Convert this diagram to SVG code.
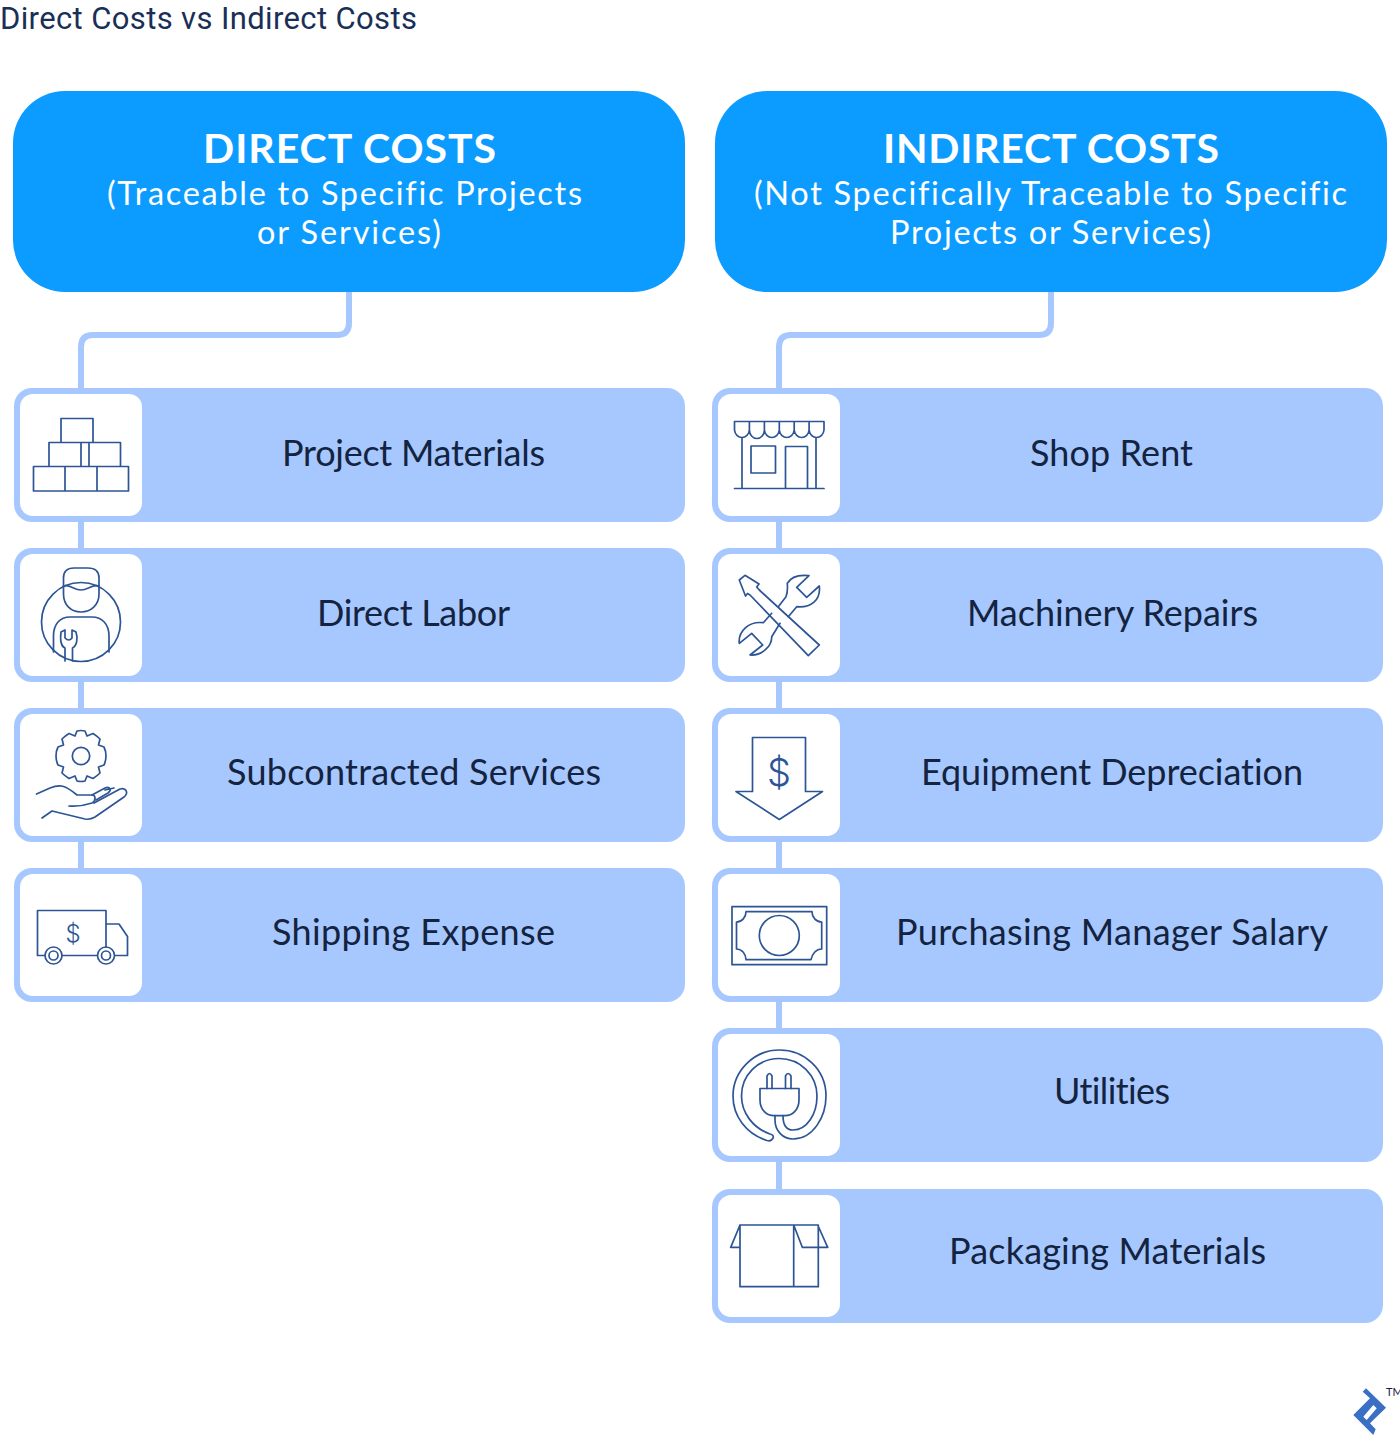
<svg xmlns="http://www.w3.org/2000/svg" width="1400" height="1436" viewBox="0 0 1400 1436">
<style>
text{font-family:"Lato","Liberation Sans",sans-serif;font-variant-ligatures:none}
.t{font-size:31px;fill:#1a2f57;font-family:"Roboto","Liberation Sans",sans-serif}
.h{font-size:41px;font-weight:700;fill:#fff}
.s{font-size:32.500px;fill:#fff}
.l{font-size:36px;fill:#14233f}
.head{fill:#0c9bff}
.card{fill:#a6c8fe}
.win{fill:#fff}
.i{fill:none;stroke:#2d5596;stroke-width:1.700;stroke-linejoin:round;stroke-linecap:round}
.d{fill:#2d5596;font-weight:300;font-family:"Inter","Lato",sans-serif}
.c{fill:none;stroke:#a6c8fe;stroke-width:6}
</style>
<text class="t" x="0" y="29" textLength="417">Direct Costs vs Indirect Costs</text>
<g id="connectors">
<path class="c" d="M349 290V323Q349 335 337 335H93Q81 335 81 347V960"/>
<path class="c" d="M1051 290V323Q1051 335 1039 335H791Q779 335 779 347V1240"/>
</g>
<g id="direct-header"><rect class="head" x="13" y="91" width="672" height="201" rx="52"/>
<text class="h" x="203" y="163" textLength="293">DIRECT COSTS</text>
<text class="s" x="107" y="205" textLength="475">(Traceable to Specific Projects</text>
<text class="s" x="257" y="244" textLength="184">or Services)</text></g>
<g id="indirect-header"><rect class="head" x="715" y="91" width="672" height="201" rx="52"/>
<text class="h" x="883" y="163" textLength="336">INDIRECT COSTS</text>
<text class="s" x="754" y="205" textLength="593">(Not Specifically Traceable to Specific</text>
<text class="s" x="890" y="244" textLength="321">Projects or Services)</text></g>

<g id="project-materials"><rect class="card" x="14" y="388" width="671" height="134" rx="18"/><rect class="win" x="20" y="394" width="122" height="122" rx="13"/>
<path class="i" d="M61 418.500H93V442.500H61ZM49 442.500H81V466.500H49ZM89 442.500H120.500V466.500H89ZM33.500 466.500H65V491H33.500ZM65 466.500H97V491H65ZM97 466.500H128.500V491H97Z"/>
<text class="l" x="282" y="466" textLength="263">Project Materials</text></g>

<g id="direct-labor"><rect class="card" x="14" y="548" width="671" height="134" rx="18"/><rect class="win" x="20" y="554" width="122" height="122" rx="13"/>
<circle class="i" cx="81" cy="622" r="39.500"/>
<path class="i" d="M63.500 586V578Q63.500 568 74 568H88Q99 568 99 578V594C99 605 91 612 81 612C71 612 63.500 605 63.500 594Z"/>
<path class="i" d="M63.500 586C70 584 74 590 81 590C88 590 92 584 99 586"/>
<path class="i" d="M53.500 652V636C53.500 624 60 617 70 617H92C102 617 109 624 109 636V652"/>
<path class="i" d="M65 661V648C60 646 60.500 636 61 632L65 630V638Q69 642 72 638V630L76 632C78 638 77 646 72.500 648V661"/>
<text class="l" x="317" y="626" textLength="193">Direct Labor</text></g>

<g id="subcontracted-services"><rect class="card" x="14" y="708" width="671" height="134" rx="18"/><rect class="win" x="20" y="714" width="122" height="122" rx="13"/>
<circle class="i" cx="81" cy="756" r="8.700"/>
<path class="i" d="M77 731Q81 730 85 731L87 736L93 733.500Q97 736 100 739L98.500 745L104 747Q106 751 106 756Q106 761 104 765L98.500 767L100 773Q97 776 93 778.500L87 776L85 781Q81 782 77 781L75 776L69 778.500Q65 776 62 773L63.500 767L58 765Q56 761 56 756Q56 751 58 747L63.500 745L62 739Q65 736 69 733.500L75 736Z"/>
<path class="i" d="M36.500 794L50 788C60 784 65 785 77 795H92C96 795 96 801 92 803Q80 807 69 806"/>
<path class="i" d="M42 818L52 811L85 819Q90 820 95 817L124 797C129 793 126 787 120 789L94 803"/>
<path class="i" d="M92 795L105 788C110 786 112 790 108 793L96 800M105 790L114 788"/>
<text class="l" x="227" y="785" textLength="374">Subcontracted Services</text></g>

<g id="shipping-expense"><rect class="card" x="14" y="868" width="671" height="134" rx="18"/><rect class="win" x="20" y="874" width="122" height="122" rx="13"/>
<path class="i" d="M45 955.500H37.500V910.500H106V947M62 955.500H97M106 924H119L127.500 936.500V955.500H115"/>
<circle class="i" cx="53.500" cy="955.500" r="8.500"/><circle class="i" cx="53.500" cy="955.500" r="4.500"/>
<circle class="i" cx="106" cy="955.500" r="8.500"/><circle class="i" cx="106" cy="955.500" r="4.500"/>
<text class="d" x="73" y="942" font-size="24" text-anchor="middle">$</text>
<text class="l" x="272" y="945" textLength="283">Shipping Expense</text></g>

<g id="shop-rent"><rect class="card" x="712" y="388" width="671" height="134" rx="18"/><rect class="win" x="718" y="394" width="122" height="122" rx="13"/>
<path class="i" d="M734.500 421.500H824M734.500 421.500V430A7.500 8.500 0 0 0 749.400 430V421.500M749.400 430A7.500 8.500 0 0 0 764.400 430V421.500M764.400 430A7.500 8.500 0 0 0 779.300 430V421.500M779.300 430A7.500 8.500 0 0 0 794.200 430V421.500M794.200 430A7.500 8.500 0 0 0 809.100 430V421.500M809.100 430A7.500 8.500 0 0 0 824 430V421.500"/>
<path class="i" d="M742 438V488.500M816 438V488.500M734.500 488.500H824M751 446H775.500V473H751ZM785.500 488.500V446.500H807.500V488.500"/>
<text class="l" x="1030" y="466" textLength="163">Shop Rent</text></g>

<g id="machinery-repairs"><rect class="card" x="712" y="548" width="671" height="134" rx="18"/><rect class="win" x="718" y="554" width="122" height="122" rx="13"/>
<path class="i" d="M739.300 580L745 575.300L759 584L756.700 587L759.300 590L819.300 645L808.300 655.700L750 595L747.500 593.500L745.500 596Z"/>
<path class="i" d="M778.300 606.700L786 596.700Q788 592 787.300 583.300C791 577 799 574.500 809 575.700L796.700 587.300L806.700 597.300L819.300 586C821 600 811 608 796.700 606.700L788.300 616.700M780 623.300L771.700 636.700C772 646 762 656 750 655L762.700 645L751.700 633.300L739.300 643.300C738 632 748 621 763.300 622.700L771.700 613.300"/>
<text class="l" x="967" y="626" textLength="291">Machinery Repairs</text></g>

<g id="equipment-depreciation"><rect class="card" x="712" y="708" width="671" height="134" rx="18"/><rect class="win" x="718" y="714" width="122" height="122" rx="13"/>
<path class="i" d="M752.500 737.500H805.500V791.500H822.500L779.300 819.500L736 791.500H752.500Z"/>
<text class="d" x="779" y="786" font-size="38" text-anchor="middle">$</text>
<text class="l" x="921" y="785" textLength="382">Equipment Depreciation</text></g>

<g id="purchasing-manager-salary"><rect class="card" x="712" y="868" width="671" height="134" rx="18"/><rect class="win" x="718" y="874" width="122" height="122" rx="13"/>
<path class="i" d="M732 906.700H826.700V964.700H732Z"/>
<path class="i" d="M746 911.700H812C812 917 816 922 821.700 922V949C816 949 812 954 811 959.700H746C746 954 742 949 736.500 949V922C742 922 746 917 746 911.700Z"/>
<circle class="i" cx="779.300" cy="935.500" r="20"/>
<text class="l" x="896" y="945" textLength="432">Purchasing Manager Salary</text></g>

<g id="utilities"><rect class="card" x="712" y="1028" width="671" height="134" rx="18"/><rect class="win" x="718" y="1034" width="122" height="122" rx="13"/>
<path class="i" d="M775 1115.700V1120C775 1131 783 1139 793 1139C813 1139 826 1117 826 1096C826 1069 804 1050 779.300 1050C754 1050 733 1071 733 1096C733 1116 746 1134 767 1140.500C773 1142 776 1135 770 1134C753 1128 741.500 1113 741.500 1096C741.500 1075 758 1058.500 779.300 1058.500C800 1058.500 817 1075 817 1096C817 1114 807 1130 793 1130C786 1130 783 1124 783 1115.700"/>
<path class="i" d="M760 1088.500H799V1100C799 1110 792 1115.700 785 1115.700H774C767 1115.700 760 1110 760 1100Z"/>
<path class="i" d="M767 1088.500V1076Q769.500 1071 772 1076V1088.500M785.500 1088.500V1076Q788 1071 791 1076V1088.500"/>
<text class="l" x="1054" y="1104" textLength="116">Utilities</text></g>

<g id="packaging-materials"><rect class="card" x="712" y="1189" width="671" height="134" rx="18"/><rect class="win" x="718" y="1195" width="122" height="122" rx="13"/>
<path class="i" d="M740 1225H818.300V1286.700H740ZM793.700 1225V1286.700M740 1225L730.700 1247.300H740M793.700 1225H817.700L827.700 1247.300H802.300Z"/>
<text class="l" x="949" y="1264" textLength="317">Packaging Materials</text></g>

<g id="logo"><path fill="#3a6fc4" fill-rule="evenodd" d="M1362.700 1391.700L1366 1388.300L1386 1407.700L1370 1423.300L1375.700 1429.300L1373.300 1435L1353.300 1415L1370 1398.300ZM1363.300 1416.700L1366.700 1420L1376.700 1408.300L1373.300 1405Z"/>
<text x="1386" y="1396" font-size="11" fill="#14233f">TM</text></g>
</svg>
